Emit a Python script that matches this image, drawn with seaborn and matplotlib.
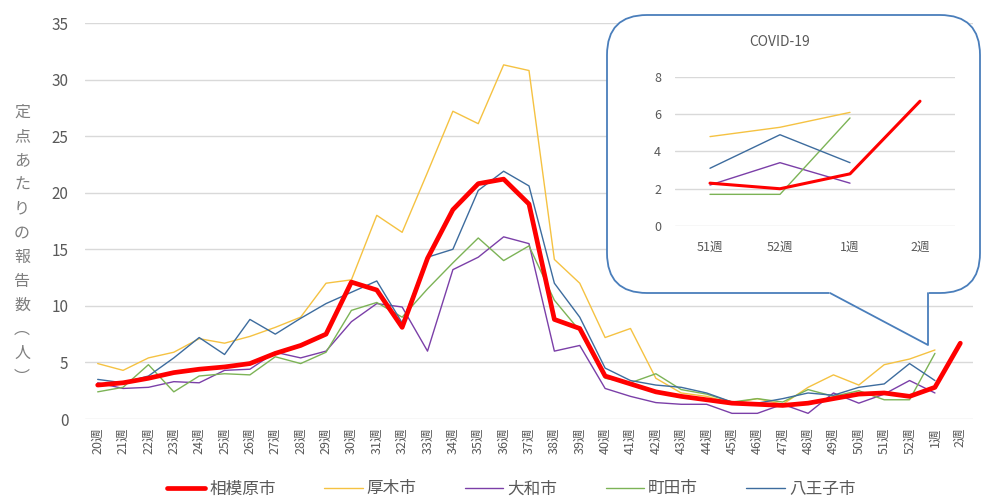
import numpy as np
import pandas as pd
import matplotlib
matplotlib.use("Agg")
import matplotlib.pyplot as plt
import seaborn as sns
from matplotlib.patches import FancyBboxPatch
from matplotlib.lines import Line2D
from matplotlib.transforms import IdentityTransform

# week labels (20週 .. 52週, then 1週, 2週)
weeks = [f"{w}週" for w in range(20, 53)] + ["1週", "2週"]

sagamihara = [3.0, 3.2, 3.6, 4.1, 4.4, 4.6, 4.9, 5.8, 6.5, 7.5,
              12.1, 11.4, 8.1, 14.2, 18.5, 20.8, 21.2, 19.0, 8.8, 8.0,
              3.8, 3.1, 2.4, 2.0, 1.7, 1.4, 1.3, 1.2, 1.4, 1.8,
              2.2, 2.3, 2.0, 2.8, 6.7]
atsugi = [4.9, 4.3, 5.4, 5.9, 7.1, 6.7, 7.3, 8.1, 9.0, 12.0,
          12.3, 18.0, 16.5, 21.8, 27.2, 26.1, 31.3, 30.8, 14.1, 12.0,
          7.2, 8.0, 3.6, 2.3, 2.0, 1.4, 1.8, 1.3, 2.8, 3.9,
          3.0, 4.8, 5.3, 6.1, np.nan]
yamato = [3.2, 2.7, 2.8, 3.3, 3.2, 4.3, 4.4, 5.9, 5.4, 6.0,
          8.6, 10.2, 9.9, 6.0, 13.2, 14.3, 16.1, 15.5, 6.0, 6.5,
          2.7, 2.0, 1.45, 1.3, 1.3, 0.5, 0.5, 1.3, 0.5, 2.3,
          1.4, 2.2, 3.4, 2.3, np.nan]
machida = [2.4, 2.8, 4.8, 2.4, 3.8, 4.0, 3.9, 5.5, 4.9, 5.9,
           9.6, 10.3, 9.0, 11.5, 13.8, 16.0, 14.0, 15.3, 10.5, 7.8,
           3.6, 3.2, 4.0, 2.6, 2.2, 1.5, 1.8, 1.5, 2.6, 2.0,
           2.5, 1.7, 1.7, 5.8, np.nan]
hachioji = [3.5, 3.2, 3.8, 5.4, 7.2, 5.7, 8.8, 7.5, 8.9, 10.2,
            11.2, 12.2, 8.5, 14.3, 15.0, 20.2, 21.9, 20.6, 12.0, 9.0,
            4.5, 3.4, 3.0, 2.8, 2.3, 1.5, 1.4, 1.8, 2.3, 2.1,
            2.8, 3.1, 4.9, 3.4, np.nan]

cities = ["相模原市", "厚木市", "大和市", "町田市", "八王子市"]
series = [sagamihara, atsugi, yamato, machida, hachioji]
colors = ["#FF0000", "#F5C242", "#7B3FA8", "#7CB356", "#3D6C9E"]
widths = [3.4, 1.0, 1.0, 1.0, 1.0]
inset_widths = [2.2, 1.0, 1.0, 1.0, 1.0]
inset_weeks = weeks[-4:]

sns.set_style("white")
plt.rcParams["font.family"] = ["Noto Sans CJK JP", "DejaVu Sans"]
grey = "#595959"

fig = plt.figure(figsize=(9.83, 5.0), dpi=100)

# main chart
ax = fig.add_axes([85 / 983, 1 - 419 / 500, 888 / 983, 396 / 500])
x = np.arange(len(weeks))
order = [1, 2, 3, 4, 0]  # red on top
for i in order:
    sns.lineplot(x=x, y=series[i], ax=ax, color=colors[i], linewidth=widths[i],
                 estimator=None, sort=False, zorder=3 if i == 0 else 2)
ax.set_xlim(-0.5, len(weeks) - 0.5)
ax.set_ylim(0, 35)
ax.set_yticks(range(0, 36, 5))
ax.set_xticks(x)
ax.set_xticklabels(weeks, rotation=90, fontsize=9, color=grey)
ax.tick_params(axis="y", labelsize=11, labelcolor=grey, pad=12, length=0)
ax.tick_params(axis="x", length=0, pad=6)
ax.grid(axis="y", color="#D9D9D9", linewidth=1)
ax.set_axisbelow(True)
for s in ax.spines.values():
    s.set_visible(False)
ax.set_xlabel("")
ax.set_ylabel("")

# vertical stacked y label
ylab = "定点あたりの報告数︵人︶"
fig.text(22 / 983, 0.51, "\n".join(ylab), ha="center", va="center",
         fontsize=11.5, color="#7F7F7F", linespacing=1.55)

# legend
handles = [Line2D([], [], color=c, linewidth=w) for c, w in zip(colors, widths)]
fig.legend(handles, cities, loc="center", bbox_to_anchor=(0.52, 0.022), ncol=5,
           frameon=False, fontsize=12, handlelength=2.3, columnspacing=2.9,
           handletextpad=0.25, labelcolor=grey)

# callout box (pixel coordinates, origin bottom-left)
H = 500
box = FancyBboxPatch((607, H - 293), 980 - 607, 293 - 15,
                     boxstyle="round,pad=0,rounding_size=40",
                     transform=IdentityTransform(), facecolor="white",
                     edgecolor="#4A7EBB", linewidth=1.3, zorder=2)
fig.add_artist(box)
fig.add_artist(Line2D([831, 927], [H - 293, H - 293], color="white", linewidth=3,
                      transform=IdentityTransform(), zorder=2.5))
fig.add_artist(Line2D([830, 928, 928], [H - 293, H - 345, H - 293], color="#4A7EBB",
                      linewidth=1.3, transform=IdentityTransform(), zorder=2.6))

# inset chart
ax2 = fig.add_axes([675 / 983, 1 - 226 / 500, 280 / 983, 149 / 500], zorder=3)
ax2.set_facecolor("none")
x2 = np.arange(len(inset_weeks))
for i in order:
    sns.lineplot(x=x2, y=series[i][-4:], ax=ax2, color=colors[i],
                 linewidth=inset_widths[i], estimator=None, sort=False,
                 zorder=3 if i == 0 else 2)
ax2.set_xlim(-0.5, 3.5)
ax2.set_ylim(0, 8)
ax2.set_yticks(range(0, 9, 2))
ax2.set_xticks(x2)
ax2.set_xticklabels(inset_weeks, fontsize=9, color=grey)
ax2.tick_params(axis="y", labelsize=9, labelcolor=grey, pad=10, length=0)
ax2.tick_params(axis="x", length=0, pad=11)
ax2.grid(axis="y", color="#D9D9D9", linewidth=1)
ax2.set_axisbelow(True)
for s in ax2.spines.values():
    s.set_visible(False)
ax2.set_xlabel("")
ax2.set_ylabel("")
fig.text(780 / 983, 1 - 42 / 500, "COVID-19", ha="center", va="center",
         fontsize=10, color=grey)

fig.savefig("out.png", dpi=100)
